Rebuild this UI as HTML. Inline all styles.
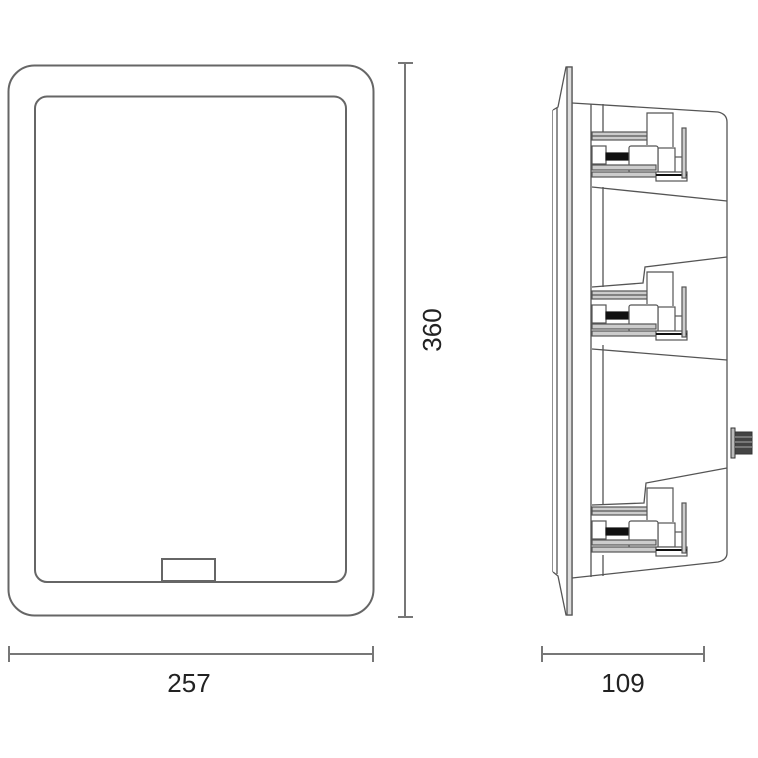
<!DOCTYPE html>
<html><head><meta charset="utf-8"><style>
html,body{margin:0;padding:0;background:#fff;width:758px;height:758px;overflow:hidden}
svg{display:block}
text{font-family:"Liberation Sans",sans-serif;fill:#222}
</style></head><body>
<svg width="758" height="758" viewBox="0 0 758 758" xmlns="http://www.w3.org/2000/svg">
<defs>
<g id="br" stroke="#555" stroke-width="1.2" fill="none">
  <rect x="592" y="132" width="59" height="8" fill="#ccc"/>
  <line x1="592" y1="136" x2="651" y2="136"/>
  <path d="M647 145 V113 H673 V147" fill="#fff"/>
  <rect x="658" y="148" width="17" height="24" fill="#fff"/>
  <rect x="592" y="146" width="14" height="18" fill="#fff"/>
  <rect x="606" y="153" width="22" height="7" fill="#111" stroke="#111"/>
  <rect x="629" y="146" width="29" height="27" rx="2" fill="#fff"/>
  <rect x="592" y="165" width="64" height="5" fill="#ccc"/>
  <rect x="592" y="172" width="64" height="5" fill="#ccc"/>
  <rect x="656" y="172" width="31" height="9" fill="#fff"/>
  <line x1="656" y1="175" x2="687" y2="175" stroke="#111" stroke-width="2"/>
  <rect x="682" y="128" width="4" height="50" fill="#ccc"/>
  <line x1="675" y1="157" x2="682" y2="157"/>
</g>
</defs>
<!-- front view -->
<rect x="8.5" y="65.5" width="365" height="550" rx="26" fill="none" stroke="#666" stroke-width="2"/>
<rect x="35" y="96.5" width="311" height="485.5" rx="12" fill="none" stroke="#666" stroke-width="2"/>
<rect x="162" y="559" width="53" height="22" fill="#fff" stroke="#666" stroke-width="2"/>
<!-- dims -->
<g stroke="#777" stroke-width="2">
<line x1="405" y1="63" x2="405" y2="617"/><line x1="398" y1="63" x2="413" y2="63"/><line x1="398" y1="617" x2="413" y2="617"/>
<line x1="9" y1="654" x2="373" y2="654"/><line x1="9" y1="646" x2="9" y2="662"/><line x1="373" y1="646" x2="373" y2="662"/>
<line x1="542" y1="654" x2="704" y2="654"/><line x1="542" y1="646" x2="542" y2="662"/><line x1="704" y1="646" x2="704" y2="662"/>
</g>
<text x="189" y="692" font-size="26" text-anchor="middle">257</text>
<text x="623" y="692" font-size="26" text-anchor="middle">109</text>
<text transform="translate(441,330) rotate(-90)" font-size="26" text-anchor="middle">360</text>
<!-- side view -->
<g stroke="#555" stroke-width="1.3" fill="none">
  <path d="M553 110 V572"/>
  <path d="M553 110 L558 107 L566 67 H572 V615 H566 L558 576 L553 572" fill="#fff"/>
  <path d="M557 108 V574"/>
  <rect x="567" y="67" width="5" height="548" fill="#ddd"/>
  <path d="M572 103 L718 112 Q727 114 727 122 V553 Q727 560 718 562 L572 578"/>
  <line x1="591" y1="104" x2="591" y2="577"/>
  <line x1="603" y1="104" x2="603" y2="132"/>
  <line x1="603" y1="187" x2="603" y2="287"/>
  <line x1="603" y1="345" x2="603" y2="505"/>
  <line x1="603" y1="555" x2="603" y2="576"/>
  <line x1="592" y1="187" x2="727" y2="201"/>
  <path d="M727 257 L645 267 L643 283 L592 287"/>
  <line x1="592" y1="349" x2="727" y2="360"/>
  <path d="M727 468 L646 483 L644 503 L592 505"/>
</g>
<use href="#br"/>
<use href="#br" transform="translate(0,159)"/>
<use href="#br" transform="translate(0,375)"/>
<!-- knob -->
<g stroke="#333" stroke-width="1">
<rect x="731" y="428" width="4" height="30" fill="#bbb"/>
<rect x="735" y="432" width="17" height="22" fill="#444"/>
<line x1="735" y1="437" x2="752" y2="437" stroke="#aaa"/>
<line x1="735" y1="442" x2="752" y2="442" stroke="#aaa"/>
<line x1="735" y1="447" x2="752" y2="447" stroke="#aaa"/>
</g>
</svg>
</body></html>
